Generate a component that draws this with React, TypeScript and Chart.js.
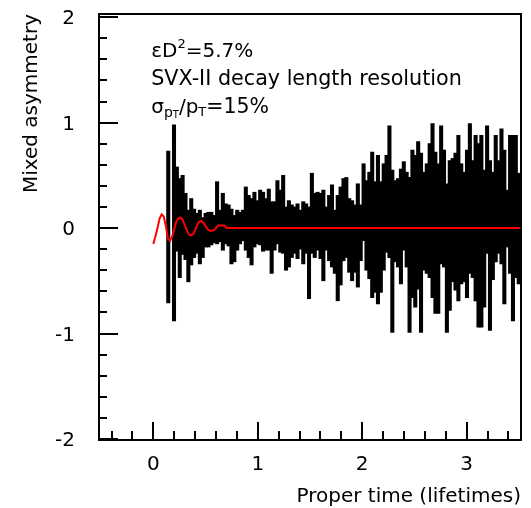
import React, { useEffect, useRef } from "react";
import { Chart, registerables } from "chart.js";

Chart.register(...registerables);

// Histogram bins (proper time, lifetimes)
const binStart = 0.143;
const binWidth = 0.0275;

// Lower / upper ends of each bin's error bar (mixed asymmetry)
const errLow: (number | null)[] = [
  -0.71, null, -0.88, -0.22, -0.47, -0.25, -0.30, -0.51, -0.35, -0.28,
  -0.24, -0.34, -0.28, -0.18, -0.18, -0.16, -0.14, -0.15, -0.13, -0.21,
  -0.15, -0.17, -0.34, -0.32, -0.21, -0.15, -0.12, -0.21, -0.28, -0.35,
  -0.18, -0.15, -0.16, -0.22, -0.21, -0.21, -0.43, -0.21, -0.15, -0.23,
  -0.24, -0.40, -0.37, -0.28, -0.24, -0.29, -0.20, -0.34, -0.24, -0.67,
  -0.24, -0.28, -0.21, -0.29, -0.50, -0.21, -0.31, -0.37, -0.43, -0.69,
  -0.54, -0.31, -0.28, -0.42, -0.50, -0.42, -0.56, -0.31, -0.12, -0.40,
  -0.48, -0.66, -0.61, -0.72, -0.61, -0.40, -0.23, -0.28, -0.99, -0.32,
  -0.37, -0.53, -0.21, -0.37, -0.99, -0.66, -0.75, -0.58, -0.99, -0.40,
  -0.43, -0.47, -0.66, -0.81, -0.81, -0.34, -0.37, -0.99, -0.78, -0.51,
  -0.59, -0.69, -0.53, -0.51, -0.66, -0.43, -0.47, -0.69, -0.94, -0.94,
  -0.75, -0.24, -0.97, -0.49, -0.32, -0.24, -0.34, -0.72, -0.18, -0.43,
  -0.88, -0.47, -0.53,
];
const errHigh: (number | null)[] = [
  0.73, null, 0.98, 0.58, 0.47, 0.50, 0.33, 0.17, 0.28, 0.18,
  0.14, 0.17, 0.10, 0.14, 0.15, 0.15, 0.12, 0.44, 0.17, 0.33,
  0.23, 0.22, 0.18, 0.12, 0.17, 0.15, 0.17, 0.39, 0.31, 0.28,
  0.34, 0.26, 0.36, 0.34, 0.28, 0.37, 0.25, 0.25, 0.45, 0.36,
  0.50, 0.20, 0.26, 0.22, 0.20, 0.23, 0.17, 0.25, 0.23, 0.20,
  0.52, 0.33, 0.34, 0.33, 0.36, 0.20, 0.31, 0.41, 0.17, 0.31,
  0.39, 0.47, 0.48, 0.28, 0.26, 0.22, 0.42, 0.22, 0.61, 0.45,
  0.53, 0.72, 0.44, 0.69, 0.44, 0.61, 0.69, 0.97, 0.55, 0.45,
  0.47, 0.56, 0.63, 0.53, 0.48, 0.74, 0.69, 0.82, 0.71, 0.53,
  0.61, 0.80, 0.99, 0.72, 0.61, 0.97, 0.74, 0.42, 0.64, 0.66,
  0.71, 0.88, 0.61, 0.53, 0.74, 0.99, 0.64, 0.88, 0.80, 0.88,
  0.55, 0.97, 0.64, 0.53, 0.88, 0.64, 0.94, 0.74, 0.36, 0.88,
  0.88, 0.88, 0.52,
];

// Expected asymmetry curve (red)
const curveT = [
  0, 0.02, 0.04, 0.06, 0.08, 0.1, 0.12, 0.14, 0.16, 0.18, 0.2, 0.22,
  0.24, 0.26, 0.28, 0.3, 0.32, 0.34, 0.36, 0.38, 0.4, 0.42, 0.44, 0.46,
  0.48, 0.5, 0.52, 0.54, 0.56, 0.58, 0.6, 0.62, 0.64, 0.66, 0.68, 0.7, 3.52,
];
const curveV = [
  -0.15, -0.08, 0.0, 0.09, 0.13, 0.11, 0.02, -0.1, -0.12, -0.08, -0.01, 0.06,
  0.09, 0.1, 0.08, 0.03, -0.02, -0.06, -0.07, -0.06, -0.02, 0.03, 0.06, 0.067,
  0.05, 0.02, -0.01, -0.025, -0.025, -0.02, 0.0, 0.025, 0.025, 0.025, 0.025, 0.0, 0.0,
];

const xTickValues = [0, 1, 2, 3];
const xTickLabels = ["0", "1", "2", "3"];
const yTickValues = [-2, -1, 0, 1, 2];
const yTickLabels = ["-2", "-1", "0", "1", "2"];

const xTitle = "Proper time (lifetimes)";
const yTitle = "Mixed asymmetry";
const noteLine2 = "SVX-II decay length resolution";

const FAMILY = '"DejaVu Sans", sans-serif';

export default function App() {
  const ref = useRef<HTMLCanvasElement>(null);

  useEffect(() => {
    if (!ref.current) return;

    const bars = errLow.map((lo, i) => ({
      x: binStart + i * binWidth,
      y: lo === null || errHigh[i] === null ? null : [lo, errHigh[i] as number],
    }));
    const curve = curveT.map((t, i) => ({ x: t, y: curveV[i] }));

    const framePlugin = {
      id: "frameTicks",
      afterDatasetsDraw(chart: any) {
        const { ctx, chartArea: a, scales } = chart;
        const xs = scales.x;
        const ys = scales.y;
        ctx.save();
        ctx.strokeStyle = "#000";
        ctx.lineWidth = 2;
        ctx.strokeRect(a.left, a.top, a.right - a.left, a.bottom - a.top);
        ctx.beginPath();
        for (let k = -10; k <= 10; k++) {
          const v = k * 0.2;
          const py = Math.round(ys.getPixelForValue(v));
          const len = k % 5 === 0 ? 19 : 8;
          ctx.moveTo(a.left, py);
          ctx.lineTo(a.left + len, py);
        }
        for (let k = -2; k <= 17; k++) {
          const v = k * 0.2;
          const px = Math.round(xs.getPixelForValue(v));
          const len = k % 5 === 0 ? 18 : 9;
          ctx.moveTo(px, a.bottom);
          ctx.lineTo(px, a.bottom - len);
        }
        ctx.stroke();
        ctx.restore();
      },
    };

    const notePlugin = {
      id: "notes",
      afterDraw(chart: any) {
        const { ctx, scales } = chart;
        const x0 = scales.x.getPixelForValue(-0.02);
        const base = [1.62, 1.355, 1.09].map((v) => scales.y.getPixelForValue(v));
        ctx.save();
        ctx.fillStyle = "#000";
        ctx.textAlign = "left";
        ctx.textBaseline = "alphabetic";
        const draw = (pieces: [string, number, number][], b: number) => {
          let cx = x0;
          for (const [t, size, dy] of pieces) {
            ctx.font = `${size}px ${FAMILY}`;
            ctx.fillText(t, cx, b + dy);
            cx += ctx.measureText(t).width;
          }
        };
        draw([["\u03b5D", 20, 0], ["2", 13, -9], ["=5.7%", 20, 0]], base[0]);
        draw([[noteLine2, 20.7, 0]], base[1]);
        draw(
          [["\u03c3", 20, 0], ["p", 14, 4], ["T", 10, 5], ["/p", 20, 0], ["T", 13, 3], ["=15%", 20.5, 0]],
          base[2]
        );
        ctx.restore();
      },
    };

    const chart = new Chart(ref.current, {
      type: "bar",
      data: {
        datasets: [
          {
            type: "line",
            data: curve,
            borderColor: "#ff0000",
            borderWidth: 2,
            pointRadius: 0,
            tension: 0,
            fill: false,
            order: 0,
          } as any,
          {
            type: "bar",
            data: bars as any,
            backgroundColor: "#000",
            borderWidth: 0,
            barThickness: 3.4,
            order: 1,
          },
        ],
      },
      options: {
        responsive: false,
        animation: false,
        events: [],
        layout: { padding: { left: 0, right: 10, top: 14, bottom: 0 } },
        plugins: { legend: { display: false }, tooltip: { enabled: false } },
        scales: {
          x: {
            type: "linear",
            min: -0.52,
            max: 3.52,
            offset: false,
            grid: { display: false, drawTicks: false },
            border: { display: false },
            afterBuildTicks: (s: any) => {
              s.ticks = xTickValues.map((v) => ({ value: v }));
            },
            afterFit: (s: any) => {
              s.height = 68;
              s.paddingLeft = 0;
              s.paddingRight = 0;
            },
            ticks: {
              color: "#000",
              font: { family: FAMILY, size: 20 },
              padding: 13,
              maxRotation: 0,
              autoSkip: false,
              callback: (_v: any, i: number) => xTickLabels[i],
            },
            title: {
              display: true,
              text: xTitle,
              align: "end",
              color: "#000",
              font: { family: FAMILY, size: 20 },
              padding: { top: 0, bottom: -1 },
            },
          },
          y: {
            type: "linear",
            min: -2.01,
            max: 2.03,
            grid: { display: false, drawTicks: false },
            border: { display: false },
            afterBuildTicks: (s: any) => {
              s.ticks = yTickValues.map((v) => ({ value: v }));
            },
            afterFit: (s: any) => {
              s.width = 99;
              s.paddingTop = 0;
              s.paddingBottom = 0;
            },
            ticks: {
              color: "#000",
              font: { family: FAMILY, size: 20 },
              padding: 24,
              labelOffset: 2,
              autoSkip: false,
              callback: (_v: any, i: number) => yTickLabels[i],
            },
            title: {
              display: true,
              text: yTitle,
              align: "end",
              color: "#000",
              font: { family: FAMILY, size: 20 },
              padding: { top: 20, bottom: 0 },
            },
          },
        },
      } as any,
      plugins: [framePlugin, notePlugin],
    });

    return () => chart.destroy();
  }, []);

  return (
    <div style={{ position: "fixed", left: 0, top: 0, width: 531, height: 508, background: "#fff" }}>
      <canvas ref={ref} width={531} height={508} style={{ display: "block" }} />
    </div>
  );
}
